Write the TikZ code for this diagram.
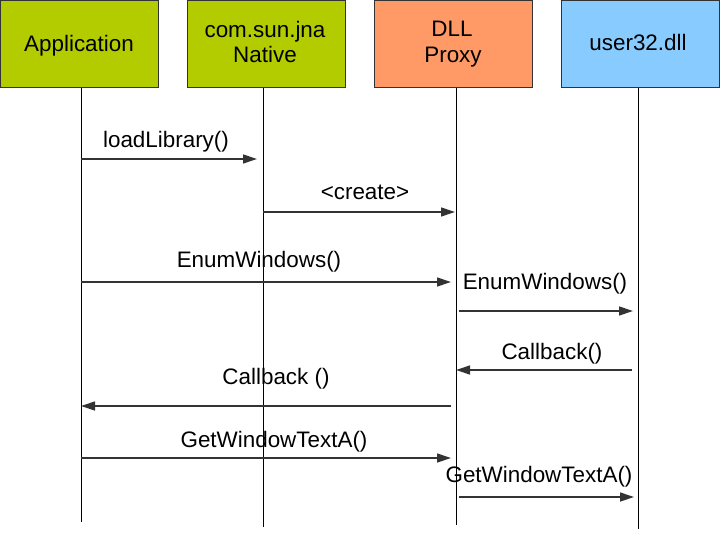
\documentclass[tikz,border=0pt]{standalone}
\usepackage{fontspec}
\setmainfont{Liberation Sans}
\usetikzlibrary{arrows.meta}
\definecolor{boxgreen}{HTML}{B2CC00}
\definecolor{boxorange}{HTML}{FF9966}
\definecolor{boxblue}{HTML}{88CCFF}
\definecolor{linegray}{HTML}{333333}
\tikzset{
  obj/.style={draw=linegray, line width=0.8bp, minimum width=158bp, minimum height=87bp, inner sep=0pt},
  lbl/.style={font=\fontsize{22.5}{22.5}\selectfont, anchor=base, inner sep=0pt},
  life/.style={draw=black, line width=0.9bp},
  msg/.style={draw=linegray, line width=1.3bp, -{Triangle[length=14bp,width=9bp]}},
}
\begin{document}
\begin{tikzpicture}[x=1bp,y=-1bp]
\useasboundingbox (0,0) rectangle (720,533);
% boxes
\node[obj, fill=boxgreen] (app) at (79,43.5) {};
\node[obj, fill=boxgreen] (nat) at (266,43.5) {};
\node[obj, fill=boxorange] (dll) at (453.5,43.5) {};
\node[obj, fill=boxblue] (usr) at (640,43.5) {};
\node[lbl] (appT) at (79,52) {Application};
\node[lbl] (natT1) at (265,38) {com.sun.jna};
\node[lbl] (natT2) at (265,63) {Native};
\node[lbl] (dllT1) at (452,37) {DLL};
\node[lbl] (dllT2) at (453,63) {Proxy};
\node[lbl] (usrT) at (638,51) {user32.dll};
% lifelines
\coordinate (appTop) at (81,88);   \coordinate (appBot) at (81,522);
\coordinate (natTop) at (263,88);  \coordinate (natBot) at (263,527);
\coordinate (dllTop) at (456,88);  \coordinate (dllBot) at (456,525);
\coordinate (usrTop) at (638,88);  \coordinate (usrBot) at (638,529);
\draw[life] (appTop) -- (appBot);
\draw[life] (natTop) -- (natBot);
\draw[life] (dllTop) -- (dllBot);
\draw[life] (usrTop) -- (usrBot);
% messages
\draw[msg] (appTop |- 0,159) -- ([xshift=-6bp]natTop |- 0,159);
\node[lbl] (m1) at (166,148) {loadLibrary()};
\draw[msg] (natTop |- 0,212) -- ([xshift=-1bp]dllTop |- 0,212);
\node[lbl] (m2) at (365,200) {<create>};
\draw[msg] (appTop |- 0,282) -- ([xshift=-5bp]dllTop |- 0,282);
\node[lbl] (m3) at (259,268) {EnumWindows()};
\draw[msg] ([xshift=3bp]dllTop |- 0,311) -- ([xshift=-5bp]usrTop |- 0,311);
\node[lbl] (m4) at (545,289) {EnumWindows()};
\draw[msg] ([xshift=-6bp]usrTop |- 0,370) -- (dllTop |- 0,370);
\node[lbl] (m5) at (552,359) {Callback()};
\draw[msg] ([xshift=-5bp]dllTop |- 0,406) -- (appTop |- 0,406);
\node[lbl] (m6) at (276,384) {Callback ()};
\draw[msg] (appTop |- 0,458) -- ([xshift=-5bp]dllTop |- 0,458);
\node[lbl] (m7) at (274,447) {GetWindowTextA()};
\draw[msg] ([xshift=3bp]dllTop |- 0,497) -- ([xshift=-4bp]usrTop |- 0,497);
\node[lbl] (m8) at (539,482) {GetWindowTextA()};
\end{tikzpicture}
\end{document}
